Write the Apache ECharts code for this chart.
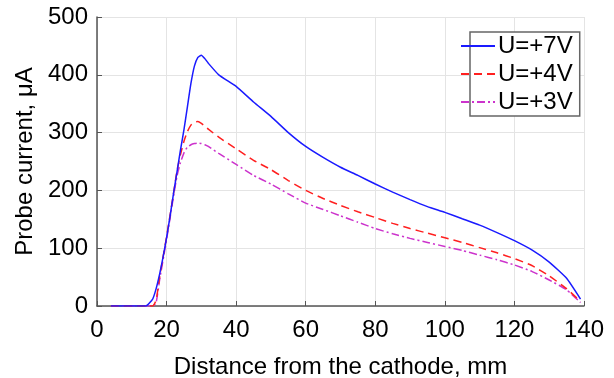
<!DOCTYPE html>
<html><head><meta charset="utf-8">
<script src="https://cdn.jsdelivr.net/npm/echarts@6/dist/echarts.min.js"></script>
<style>html,body{margin:0;padding:0;background:#fff}#c{width:614px;height:378px}</style>
</head><body><div id="c"></div>
<script>
var distance = [4, 14, 16, 17, 18, 19, 20, 21, 22, 23, 24, 25, 26, 27, 28, 29, 30, 31, 32, 35, 40, 45, 50, 55, 60, 65, 70, 75, 80, 85, 90, 95, 100, 105, 110, 115, 120, 125, 130, 135, 139];
var u7 = [0, 0, 12, 30, 55, 85, 118, 155, 195, 232, 270, 305, 345, 385, 415, 430, 434, 428, 420, 400, 380, 353, 328, 300, 276, 257, 240, 226, 211, 197, 184, 172, 162, 151, 140, 127, 113, 97, 76, 48, 12];
var u4 = [0, 0, 0, 10, 50, 85, 120, 157, 195, 234, 262, 285, 302, 313, 318, 319, 316, 311, 306, 292, 272, 252, 236, 217, 200, 186, 174, 163, 153, 143, 134, 126, 118, 110, 101, 92, 82, 70, 52, 30, 8];
var u3 = [0, 0, 0, 6, 45, 80, 115, 152, 190, 225, 248, 265, 275, 279, 281, 282, 281, 279, 276, 264, 245, 226, 211, 194, 178, 167, 156, 145, 134, 125, 117, 110, 103, 96, 88, 80, 71, 60, 45, 28, 6];
var seriesNames = ['U=+7V', 'U=+4V', 'U=+3V'];
var xTitle = 'Distance from the cathode, mm';
var yTitle = 'Probe current, \u03bcA';

function pairs(ys) { return distance.map(function (x, i) { return [x, ys[i]]; }); }

var font = 'Liberation Sans, Arial, sans-serif';
var chart = echarts.init(document.getElementById('c'), null, {renderer: 'canvas'});
chart.setOption({
  animation: false,
  grid: {left: 97, right: 30, top: 17, bottom: 72, containLabel: false, outerBoundsMode: 'none'},
  legend: {
    orient: 'vertical', left: 470, top: 32,
    itemGap: 2, itemWidth: 34, itemHeight: 14,
    backgroundColor: '#fff', borderColor: '#666', borderWidth: 1.5,
    padding: [1, 7, 1, -10],
    itemStyle: {opacity: 0},
    textStyle: {fontFamily: font, fontSize: 24, color: '#000', padding: [0, 0, 0, -2], lineHeight: 26},
    data: seriesNames
  },
  xAxis: {
    type: 'value', min: 0, max: 140, interval: 20,
    name: xTitle, nameLocation: 'middle', nameGap: 49,
    nameTextStyle: {fontFamily: font, fontSize: 24, color: '#000'},
    axisLine: {show: true, lineStyle: {color: '#555', width: 1.5}},
    axisTick: {show: true, inside: true, length: 5, lineStyle: {color: '#555'}},
    axisLabel: {fontFamily: font, fontSize: 24, color: '#000', margin: 12},
    splitLine: {show: true, lineStyle: {color: '#e4e4e4', width: 1}}
  },
  yAxis: {
    type: 'value', min: 0, max: 500, interval: 100,
    name: yTitle, nameLocation: 'middle', nameGap: 50,
    nameTextStyle: {fontFamily: font, fontSize: 24, color: '#000'},
    axisLine: {show: true, lineStyle: {color: '#555', width: 1.5}},
    axisTick: {show: true, inside: true, length: 5, lineStyle: {color: '#555'}},
    axisLabel: {fontFamily: font, fontSize: 24, color: '#000', margin: 9},
    splitLine: {show: true, lineStyle: {color: '#e4e4e4', width: 1}}
  },
  series: [
    {name: seriesNames[0], type: 'line', data: pairs(u7), smooth: 0.15, symbol: 'none',
     lineStyle: {color: '#1a1aff', width: 1.5, type: 'solid'}, itemStyle: {color: '#1a1aff'}, z: 3},
    {name: seriesNames[1], type: 'line', data: pairs(u4), smooth: 0.15, symbol: 'none',
     lineStyle: {color: '#ff2020', width: 1.5, type: [8, 5]}, itemStyle: {color: '#ff2020'}, z: 2},
    {name: seriesNames[2], type: 'line', data: pairs(u3), smooth: 0.15, symbol: 'none',
     lineStyle: {color: '#cc33cc', width: 1.5, type: [8, 3, 2, 3]}, itemStyle: {color: '#cc33cc'}, z: 1}
  ]
});
</script></body></html>
